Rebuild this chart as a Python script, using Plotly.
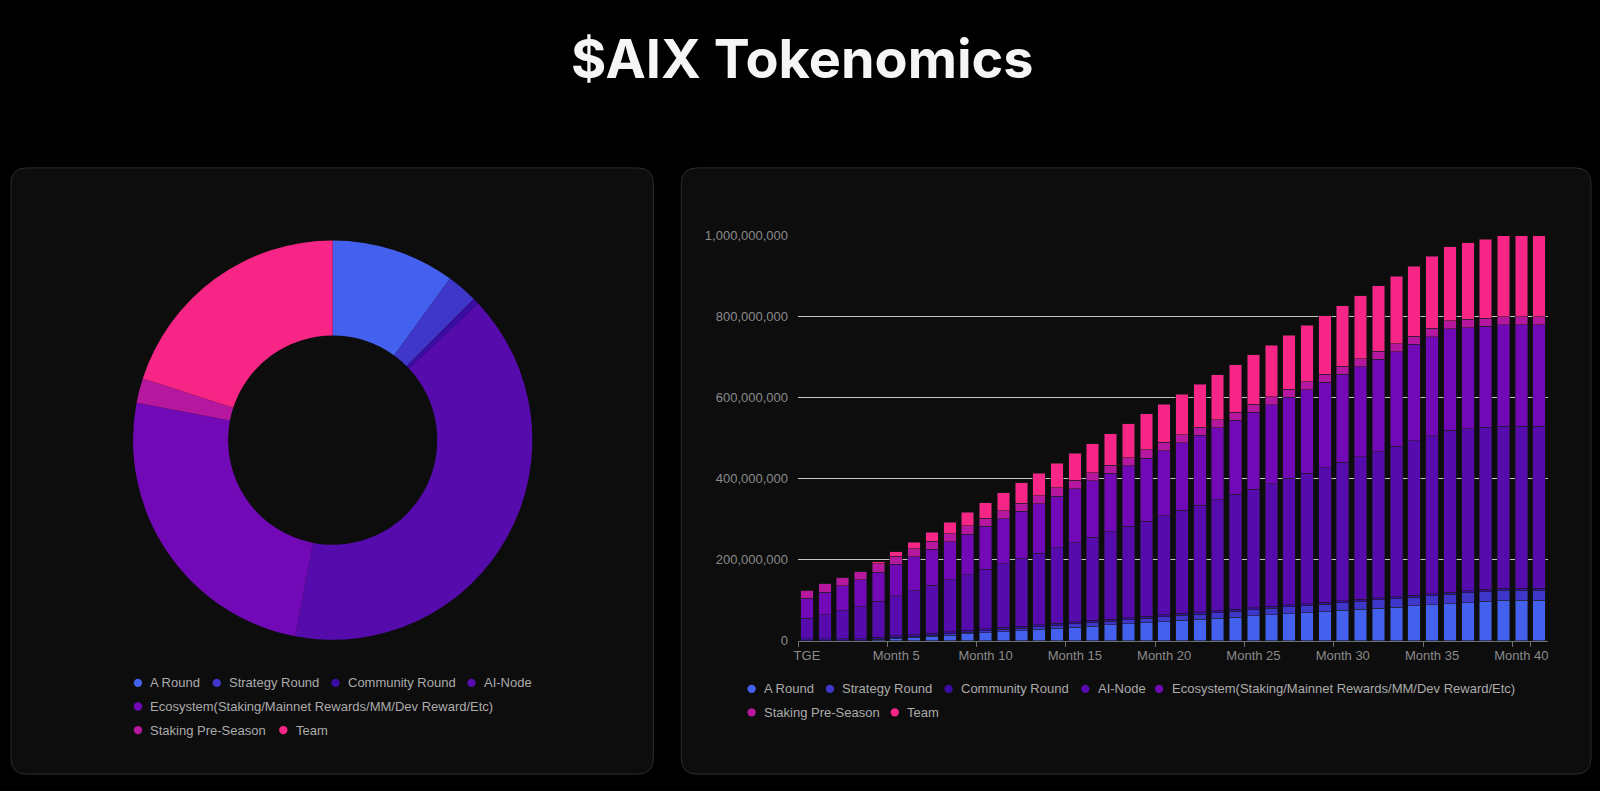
import plotly.graph_objects as go

W, H = 1600, 791

title_text = "$AIX Tokenomics"
series_names = ["A Round", "Strategy Round", "Community Round", "AI-Node",
                "Ecosystem(Staking/Mainnet Rewards/MM/Dev Reward/Etc)",
                "Staking Pre-Season", "Team"]
series_colors = ["#4361ee", "#3f37c9", "#3a0ca3", "#560bad", "#7209b7", "#b5179e", "#f72585"]
allocation_pct = [10, 2.5, 0.5, 40, 25, 2, 20]

months = ["TGE"] + [f"Month {i}" for i in range(1, 42)]
month_tick_labels = ["TGE", "Month 5", "Month 10", "Month 15", "Month 20",
                     "Month 25", "Month 30", "Month 35", "Month 40"]

# unlocked tokens, millions
a_round = [0, 0, 0, 0, 2.8, 5.6, 8.3, 11.1, 13.9, 16.7, 19.4, 22.2, 25.0, 27.8, 30.6, 33.3,
           36.1, 38.9, 41.7, 44.4, 47.2, 50.0, 52.8, 55.6, 58.3, 61.1, 63.9, 66.7, 69.4,
           72.2, 75.0, 77.8, 80.6, 83.3, 86.1, 88.9, 91.7, 94.4, 97.2, 100, 100, 100]
strategy_round = [0, 0, 0, 0, 0.7, 1.4, 2.1, 2.8, 3.5, 4.2, 4.9, 5.6, 6.3, 6.9, 7.6, 8.3,
                  9.0, 9.7, 10.4, 11.1, 11.8, 12.5, 13.2, 13.9, 14.6, 15.3, 16.0, 16.7, 17.4,
                  18.1, 18.8, 19.4, 20.1, 20.8, 21.5, 22.2, 22.9, 23.6, 24.3, 25.0, 25.0, 25.0]
community_round = [5, 5, 5, 5, 5, 5, 5, 5, 5, 5, 5, 5, 5, 5, 5, 5, 5, 5, 5, 5, 5,
                   5, 5, 5, 5, 5, 5, 5, 5, 5, 5, 5, 5, 5, 5, 5, 5, 5, 5, 5, 5, 5]
ai_node = [50, 59.7, 69.4, 79.2, 88.9, 98.6, 108.3, 118.1, 127.8, 137.5, 147.2, 156.9,
           166.7, 176.4, 186.1, 195.8, 205.6, 215.3, 225.0, 234.7, 244.4, 254.2, 263.9,
           273.6, 283.3, 293.1, 302.8, 312.5, 322.2, 331.9, 341.7, 351.4, 361.1, 370.8,
           380.6, 390.3, 400, 400, 400, 400, 400, 400]
ecosystem = [50, 55.6, 61.1, 66.7, 72.2, 77.8, 83.3, 88.9, 94.4, 100, 105.6, 111.1, 116.7,
             122.2, 127.8, 133.3, 138.9, 144.4, 150, 155.6, 161.1, 166.7, 172.2, 177.8,
             183.3, 188.9, 194.4, 200, 205.6, 211.1, 216.7, 222.2, 227.8, 233.3, 238.9,
             244.4, 250, 250, 250, 250, 250, 250]
staking_pre_season = [20, 20, 20, 20, 20, 20, 20, 20, 20, 20, 20, 20, 20, 20, 20, 20, 20,
                      20, 20, 20, 20, 20, 20, 20, 20, 20, 20, 20, 20, 20, 20, 20, 20, 20,
                      20, 20, 20, 20, 20, 20, 20, 20]
team = [0, 0, 0, 0, 5.6, 11.1, 16.7, 22.2, 27.8, 33.3, 38.9, 44.4, 50, 55.6, 61.1, 66.7,
        72.2, 77.8, 83.3, 88.9, 94.4, 100, 105.6, 111.1, 116.7, 122.2, 127.8, 133.3, 138.9,
        144.4, 150, 155.6, 161.1, 166.7, 172.2, 177.8, 183.3, 188.9, 194.4, 200, 200, 200]

series_values = [a_round, strategy_round, community_round, ai_node, ecosystem,
                 staking_pre_season, team]

UNIT = 1_000_000


def fx(x):
    return x / W


def fy(y):
    return 1 - y / H


def rounded_rect(x0, y0, x1, y1, r):
    pts = [
        ("M", [(x0 + r, y0)]), ("L", [(x1 - r, y0)]), ("Q", [(x1, y0), (x1, y0 + r)]),
        ("L", [(x1, y1 - r)]), ("Q", [(x1, y1), (x1 - r, y1)]), ("L", [(x0 + r, y1)]),
        ("Q", [(x0, y1), (x0, y1 - r)]), ("L", [(x0, y0 + r)]), ("Q", [(x0, y0), (x0 + r, y0)]),
    ]
    s = ""
    for cmd, coords in pts:
        s += cmd + " " + " ".join(f"{fx(a):.6f},{fy(b):.6f}" for a, b in coords) + " "
    return s + "Z"


fig = go.Figure()

# donut
cx, cy, R = 329.5, 441.5, 203.5
fig.add_trace(go.Pie(
    labels=series_names, values=allocation_pct, hole=0.524, sort=False,
    direction="clockwise", rotation=0,
    marker=dict(colors=series_colors, line=dict(width=0)),
    textinfo="none", hoverinfo="label+percent", showlegend=False,
    domain=dict(x=[fx(cx - R), fx(cx + R)], y=[fy(cy + R), fy(cy - R)]),
))

# stacked bars
for name, vals, color in zip(series_names, series_values, series_colors):
    fig.add_trace(go.Bar(
        x=months, y=[v * UNIT for v in vals], name=name,
        marker=dict(color=color, line=dict(width=0.6, color="rgba(28,28,28,0.9)")),
        showlegend=False,
    ))

axis_font = dict(family="Liberation Sans, Arial, sans-serif", size=13, color="#8a8a8a")

shapes = [
    dict(type="path", path=rounded_rect(7, 164, 651, 782, 16), xref="paper", yref="paper",
         fillcolor="#0d0d0d", line=dict(color="#2c2c2c", width=1), layer="below"),
    dict(type="path", path=rounded_rect(679, 164, 1591, 782, 16), xref="paper", yref="paper",
         fillcolor="#0d0d0d", line=dict(color="#2c2c2c", width=1), layer="below"),
]

annotations = [
    dict(text=title_text, x=fx(800), y=fy(52), xref="paper", yref="paper",
         xanchor="center", yanchor="middle", showarrow=False,
         font=dict(family="Inter, Open Sans, sans-serif", size=54, color="#f5f5f5", weight=700)),
]

legend_font = dict(family="Liberation Sans, Arial, sans-serif", size=13, color="#ababab")
# (series index, circle centre x, row y)
left_legend = [(0, 134.3, 689), (1, 213.3, 689), (2, 332.3, 689), (3, 468.7, 689),
               (4, 134.3, 713), (5, 134.3, 737), (6, 280.0, 737)]
right_legend = [(0, 749.5, 695), (1, 828.0, 695), (2, 947.0, 695), (3, 1084.0, 695),
                (4, 1158.0, 695), (5, 749.5, 719), (6, 893.0, 719)]
rad = 4.2
for idx, ccx, ry in left_legend + right_legend:
    shapes.append(dict(type="circle", xref="paper", yref="paper",
                       x0=fx(ccx - rad), x1=fx(ccx + rad), y0=fy(ry + rad), y1=fy(ry - rad),
                       fillcolor=series_colors[idx], line=dict(width=0)))
    annotations.append(dict(text=series_names[idx], x=fx(ccx + 10.5), y=fy(ry),
                            xref="paper", yref="paper", xanchor="left", yanchor="middle",
                            showarrow=False, font=legend_font))

fig.update_layout(
    width=W, height=H, margin=dict(l=0, r=0, t=0, b=0),
    paper_bgcolor="#000000", plot_bgcolor="rgba(0,0,0,0)",
    barmode="stack", bargap=0.30, showlegend=False,
    font=dict(family="Liberation Sans, Arial, sans-serif"),
    xaxis=dict(domain=[fx(796), fx(1548)], type="category",
               tickmode="array", tickvals=month_tick_labels, tickson="boundaries",
               ticks="outside", ticklen=5, tickcolor="#6f6f6f", tickwidth=1, tickangle=0,
               ticklabelstandoff=3,
               showline=True, linecolor="#6f6f6f", linewidth=1, showgrid=False,
               tickfont=axis_font, fixedrange=True),
    yaxis=dict(domain=[fy(646), fy(233)], range=[0, 1e9], tickmode="linear", tick0=0,
               dtick=2e8, tickformat=",d", showgrid=True, gridcolor="#c4c4c4", gridwidth=1,
               zeroline=False, showline=False, ticks="", ticklabelstandoff=9,
               tickfont=axis_font, fixedrange=True),
    shapes=shapes, annotations=annotations,
)

fig.write_html("out.html", config={"displayModeBar": False},
               post_script="document.body.style.margin='0';document.body.style.background='#000';")
